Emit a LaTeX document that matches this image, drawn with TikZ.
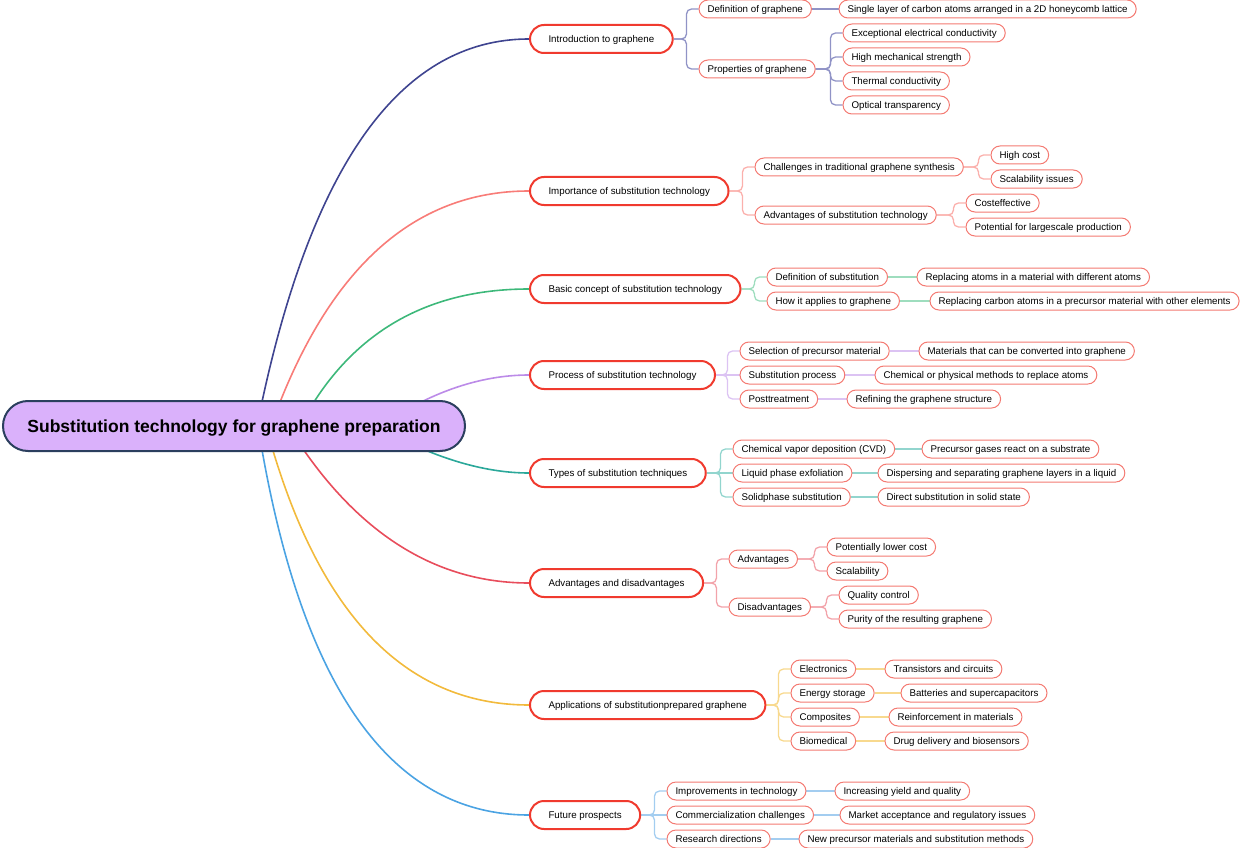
\documentclass[tikz,border=0pt]{standalone}
\usepackage{fontspec}
\setmainfont{Liberation Sans}
\usepackage{tikz}
\usetikzlibrary{calc,backgrounds}

\definecolor{rootfill}{HTML}{DAB1FB}
\definecolor{rootline}{HTML}{2B3F5E}
\definecolor{topicred}{HTML}{F03A2E}
\definecolor{subred}{HTML}{F47A72}
\definecolor{navy}{HTML}{3F4490}
\definecolor{navylight}{HTML}{9093C6}
\definecolor{salmon}{HTML}{F87C78}
\definecolor{salmonlight}{HTML}{FBB0AC}
\definecolor{mint}{HTML}{3DB87A}
\definecolor{mintlight}{HTML}{9EDDBE}
\definecolor{lilac}{HTML}{BC8BE8}
\definecolor{lilaclight}{HTML}{DCC3F3}
\definecolor{teal}{HTML}{2BA89A}
\definecolor{teallight}{HTML}{92D5CE}
\definecolor{rose}{HTML}{E84D5C}
\definecolor{roselight}{HTML}{F2A3AA}
\definecolor{amber}{HTML}{F2BA3C}
\definecolor{amberlight}{HTML}{F8D98E}
\definecolor{sky}{HTML}{4BA3E3}
\definecolor{skylight}{HTML}{A3CDF0}

\begin{document}
\begin{tikzpicture}[x=1pt,y=-1pt]
	\tikzstyle{root} = [draw=rootline, fill=rootfill, line width=2pt, rounded corners=25pt, minimum height=50pt, minimum width=462pt, inner sep=0pt, text height=12.5pt, text depth=0pt, font=\fontsize{17.5}{20}\selectfont\bfseries]
	\tikzstyle{topic} = [draw=topicred, fill=white, line width=2pt, rounded corners=14pt, minimum height=28pt, inner xsep=18.5pt, inner ysep=0pt, text height=7pt, text depth=0pt, anchor=west, font=\fontsize{9.75}{11}\selectfont]
	\tikzstyle{leaf} = [draw=subred, fill=white, line width=1pt, rounded corners=9pt, minimum height=18pt, inner xsep=8.5pt, inner ysep=0pt, text height=7pt, text depth=0pt, anchor=west, font=\fontsize{9.75}{11}\selectfont]
	\tikzstyle{main} = [line width=1.6pt]
	\tikzstyle{link} = [line width=1.3pt, rounded corners=5pt]
	\useasboundingbox (0,0) rectangle (1240,848);

	\node[root] (root) at (234,426) {Substitution technology for graphene preparation};

	\node[topic] (intro) at (529,39) {Introduction to graphene};
	\node[topic] (importance) at (529,191) {Importance of substitution technology};
	\node[topic] (basic) at (529,289) {Basic concept of substitution technology};
	\node[topic] (process) at (529,375) {Process of substitution technology};
	\node[topic] (types) at (529,473) {Types of substitution techniques};
	\node[topic] (proscons) at (529,583) {Advantages and disadvantages};
	\node[topic] (apps) at (529,705) {Applications of substitutionprepared graphene};
	\node[topic] (future) at (529,815) {Future prospects};

	\node[leaf] (intro-def) at (698.5,9) {Definition of graphene};
	\node[leaf] (intro-prop) at (698.5,69) {Properties of graphene};
	\node[leaf] (intro-def-a) at (838.5,9) {Single layer of carbon atoms arranged in a 2D honeycomb lattice};
	\node[leaf] (intro-prop-a) at (842.5,33) {Exceptional electrical conductivity};
	\node[leaf] (intro-prop-b) at (842.5,57) {High mechanical strength};
	\node[leaf] (intro-prop-c) at (842.5,81) {Thermal conductivity};
	\node[leaf] (intro-prop-d) at (842.5,105) {Optical transparency};

	\node[leaf] (imp-chal) at (754.5,167) {Challenges in traditional graphene synthesis};
	\node[leaf] (imp-adv) at (754.5,215) {Advantages of substitution technology};
	\node[leaf] (imp-chal-a) at (990.5,155) {High cost};
	\node[leaf] (imp-chal-b) at (990.5,179) {Scalability issues};
	\node[leaf] (imp-adv-a) at (965.5,203) {Costeffective};
	\node[leaf] (imp-adv-b) at (965.5,227) {Potential for largescale production};

	\node[leaf] (basic-def) at (766.5,277) {Definition of substitution};
	\node[leaf] (basic-how) at (766.5,301) {How it applies to graphene};
	\node[leaf] (basic-def-a) at (916.5,277) {Replacing atoms in a material with different atoms};
	\node[leaf] (basic-how-a) at (929.5,301) {Replacing carbon atoms in a precursor material with other elements};

	\node[leaf] (proc-sel) at (739.5,351) {Selection of precursor material};
	\node[leaf] (proc-sub) at (739.5,375) {Substitution process};
	\node[leaf] (proc-post) at (739.5,399) {Posttreatment};
	\node[leaf] (proc-sel-a) at (918.5,351) {Materials that can be converted into graphene};
	\node[leaf] (proc-sub-a) at (874.5,375) {Chemical or physical methods to replace atoms};
	\node[leaf] (proc-post-a) at (846.5,399) {Refining the graphene structure};

	\node[leaf] (types-cvd) at (732.5,449) {Chemical vapor deposition (CVD)};
	\node[leaf] (types-lpe) at (732.5,473) {Liquid phase exfoliation};
	\node[leaf] (types-solid) at (732.5,497) {Solidphase substitution};
	\node[leaf] (types-cvd-a) at (921.5,449) {Precursor gases react on a substrate};
	\node[leaf] (types-lpe-a) at (877.5,473) {Dispersing and separating graphene layers in a liquid};
	\node[leaf] (types-solid-a) at (877.5,497) {Direct substitution in solid state};

	\node[leaf] (pc-adv) at (728.5,559) {Advantages};
	\node[leaf] (pc-dis) at (728.5,607) {Disadvantages};
	\node[leaf] (pc-adv-a) at (826.5,547) {Potentially lower cost};
	\node[leaf] (pc-adv-b) at (826.5,571) {Scalability};
	\node[leaf] (pc-dis-a) at (838.5,595) {Quality control};
	\node[leaf] (pc-dis-b) at (838.5,619) {Purity of the resulting graphene};

	\node[leaf] (apps-el) at (790.5,669) {Electronics};
	\node[leaf] (apps-en) at (790.5,693) {Energy storage};
	\node[leaf] (apps-co) at (790.5,717) {Composites};
	\node[leaf] (apps-bio) at (790.5,741) {Biomedical};
	\node[leaf] (apps-el-a) at (884.5,669) {Transistors and circuits};
	\node[leaf] (apps-en-a) at (900.5,693) {Batteries and supercapacitors};
	\node[leaf] (apps-co-a) at (888.5,717) {Reinforcement in materials};
	\node[leaf] (apps-bio-a) at (884.5,741) {Drug delivery and biosensors};

	\node[leaf] (fut-imp) at (666.5,791) {Improvements in technology};
	\node[leaf] (fut-com) at (666.5,815) {Commercialization challenges};
	\node[leaf] (fut-res) at (666.5,839) {Research directions};
	\node[leaf] (fut-imp-a) at (834.5,791) {Increasing yield and quality};
	\node[leaf] (fut-com-a) at (839.5,815) {Market acceptance and regulatory issues};
	\node[leaf] (fut-res-a) at (798.5,839) {New precursor materials and substitution methods};

	\coordinate (s1) at (257,426); \coordinate (c1) at (334,39);
	\coordinate (s2) at (271,426); \coordinate (c2) at (355,191);
	\coordinate (s3) at (300,426); \coordinate (c3) at (372,289);
	\coordinate (s4) at (380,426); \coordinate (c4) at (456,375);
	\coordinate (s5) at (376,426); \coordinate (c5) at (460,473);
	\coordinate (s6) at (288,426); \coordinate (c6) at (385,583);
	\coordinate (s7) at (266,426); \coordinate (c7) at (341,705);
	\coordinate (s8) at (258,426); \coordinate (c8) at (320,815);

	\begin{scope}[on background layer]
		\draw[main, navy] (s1) .. controls ($(s1)!2/3!(c1)$) and ($(intro.west)!2/3!(c1)$) .. (intro.west);
		\draw[main, salmon] (s2) .. controls ($(s2)!2/3!(c2)$) and ($(importance.west)!2/3!(c2)$) .. (importance.west);
		\draw[main, mint] (s3) .. controls ($(s3)!2/3!(c3)$) and ($(basic.west)!2/3!(c3)$) .. (basic.west);
		\draw[main, lilac] (s4) .. controls ($(s4)!2/3!(c4)$) and ($(process.west)!2/3!(c4)$) .. (process.west);
		\draw[main, teal] (s5) .. controls ($(s5)!2/3!(c5)$) and ($(types.west)!2/3!(c5)$) .. (types.west);
		\draw[main, rose] (s6) .. controls ($(s6)!2/3!(c6)$) and ($(proscons.west)!2/3!(c6)$) .. (proscons.west);
		\draw[main, amber] (s7) .. controls ($(s7)!2/3!(c7)$) and ($(apps.west)!2/3!(c7)$) .. (apps.west);
		\draw[main, sky] (s8) .. controls ($(s8)!2/3!(c8)$) and ($(future.west)!2/3!(c8)$) .. (future.west);

		\draw[link, navylight] (intro.east) -| ([xshift=-12pt]intro-def.west) -- (intro-def.west);
		\draw[link, navylight] (intro.east) -| ([xshift=-12pt]intro-prop.west) -- (intro-prop.west);
		\draw[link, navylight] (intro-def.east) -- (intro-def-a.west);
		\draw[link, navylight] (intro-prop.east) -| ([xshift=-12pt]intro-prop-a.west) -- (intro-prop-a.west);
		\draw[link, navylight] (intro-prop.east) -| ([xshift=-12pt]intro-prop-b.west) -- (intro-prop-b.west);
		\draw[link, navylight] (intro-prop.east) -| ([xshift=-12pt]intro-prop-c.west) -- (intro-prop-c.west);
		\draw[link, navylight] (intro-prop.east) -| ([xshift=-12pt]intro-prop-d.west) -- (intro-prop-d.west);

		\draw[link, salmonlight] (importance.east) -| ([xshift=-12pt]imp-chal.west) -- (imp-chal.west);
		\draw[link, salmonlight] (importance.east) -| ([xshift=-12pt]imp-adv.west) -- (imp-adv.west);
		\draw[link, salmonlight] (imp-chal.east) -| ([xshift=-12pt]imp-chal-a.west) -- (imp-chal-a.west);
		\draw[link, salmonlight] (imp-chal.east) -| ([xshift=-12pt]imp-chal-b.west) -- (imp-chal-b.west);
		\draw[link, salmonlight] (imp-adv.east) -| ([xshift=-12pt]imp-adv-a.west) -- (imp-adv-a.west);
		\draw[link, salmonlight] (imp-adv.east) -| ([xshift=-12pt]imp-adv-b.west) -- (imp-adv-b.west);

		\draw[link, mintlight] (basic.east) -| ([xshift=-12pt]basic-def.west) -- (basic-def.west);
		\draw[link, mintlight] (basic.east) -| ([xshift=-12pt]basic-how.west) -- (basic-how.west);
		\draw[link, mintlight] (basic-def.east) -- (basic-def-a.west);
		\draw[link, mintlight] (basic-how.east) -- (basic-how-a.west);

		\draw[link, lilaclight] (process.east) -| ([xshift=-12pt]proc-sel.west) -- (proc-sel.west);
		\draw[link, lilaclight] (process.east) -- (proc-sub.west);
		\draw[link, lilaclight] (process.east) -| ([xshift=-12pt]proc-post.west) -- (proc-post.west);
		\draw[link, lilaclight] (proc-sel.east) -- (proc-sel-a.west);
		\draw[link, lilaclight] (proc-sub.east) -- (proc-sub-a.west);
		\draw[link, lilaclight] (proc-post.east) -- (proc-post-a.west);

		\draw[link, teallight] (types.east) -| ([xshift=-12pt]types-cvd.west) -- (types-cvd.west);
		\draw[link, teallight] (types.east) -- (types-lpe.west);
		\draw[link, teallight] (types.east) -| ([xshift=-12pt]types-solid.west) -- (types-solid.west);
		\draw[link, teallight] (types-cvd.east) -- (types-cvd-a.west);
		\draw[link, teallight] (types-lpe.east) -- (types-lpe-a.west);
		\draw[link, teallight] (types-solid.east) -- (types-solid-a.west);

		\draw[link, roselight] (proscons.east) -| ([xshift=-12pt]pc-adv.west) -- (pc-adv.west);
		\draw[link, roselight] (proscons.east) -| ([xshift=-12pt]pc-dis.west) -- (pc-dis.west);
		\draw[link, roselight] (pc-adv.east) -| ([xshift=-12pt]pc-adv-a.west) -- (pc-adv-a.west);
		\draw[link, roselight] (pc-adv.east) -| ([xshift=-12pt]pc-adv-b.west) -- (pc-adv-b.west);
		\draw[link, roselight] (pc-dis.east) -| ([xshift=-12pt]pc-dis-a.west) -- (pc-dis-a.west);
		\draw[link, roselight] (pc-dis.east) -| ([xshift=-12pt]pc-dis-b.west) -- (pc-dis-b.west);

		\draw[link, amberlight] (apps.east) -| ([xshift=-12pt]apps-el.west) -- (apps-el.west);
		\draw[link, amberlight] (apps.east) -| ([xshift=-12pt]apps-en.west) -- (apps-en.west);
		\draw[link, amberlight] (apps.east) -| ([xshift=-12pt]apps-co.west) -- (apps-co.west);
		\draw[link, amberlight] (apps.east) -| ([xshift=-12pt]apps-bio.west) -- (apps-bio.west);
		\draw[link, amberlight] (apps-el.east) -- (apps-el-a.west);
		\draw[link, amberlight] (apps-en.east) -- (apps-en-a.west);
		\draw[link, amberlight] (apps-co.east) -- (apps-co-a.west);
		\draw[link, amberlight] (apps-bio.east) -- (apps-bio-a.west);

		\draw[link, skylight] (future.east) -| ([xshift=-12pt]fut-imp.west) -- (fut-imp.west);
		\draw[link, skylight] (future.east) -- (fut-com.west);
		\draw[link, skylight] (future.east) -| ([xshift=-12pt]fut-res.west) -- (fut-res.west);
		\draw[link, skylight] (fut-imp.east) -- (fut-imp-a.west);
		\draw[link, skylight] (fut-com.east) -- (fut-com-a.west);
		\draw[link, skylight] (fut-res.east) -- (fut-res-a.west);
	\end{scope}
\end{tikzpicture}
\end{document}
